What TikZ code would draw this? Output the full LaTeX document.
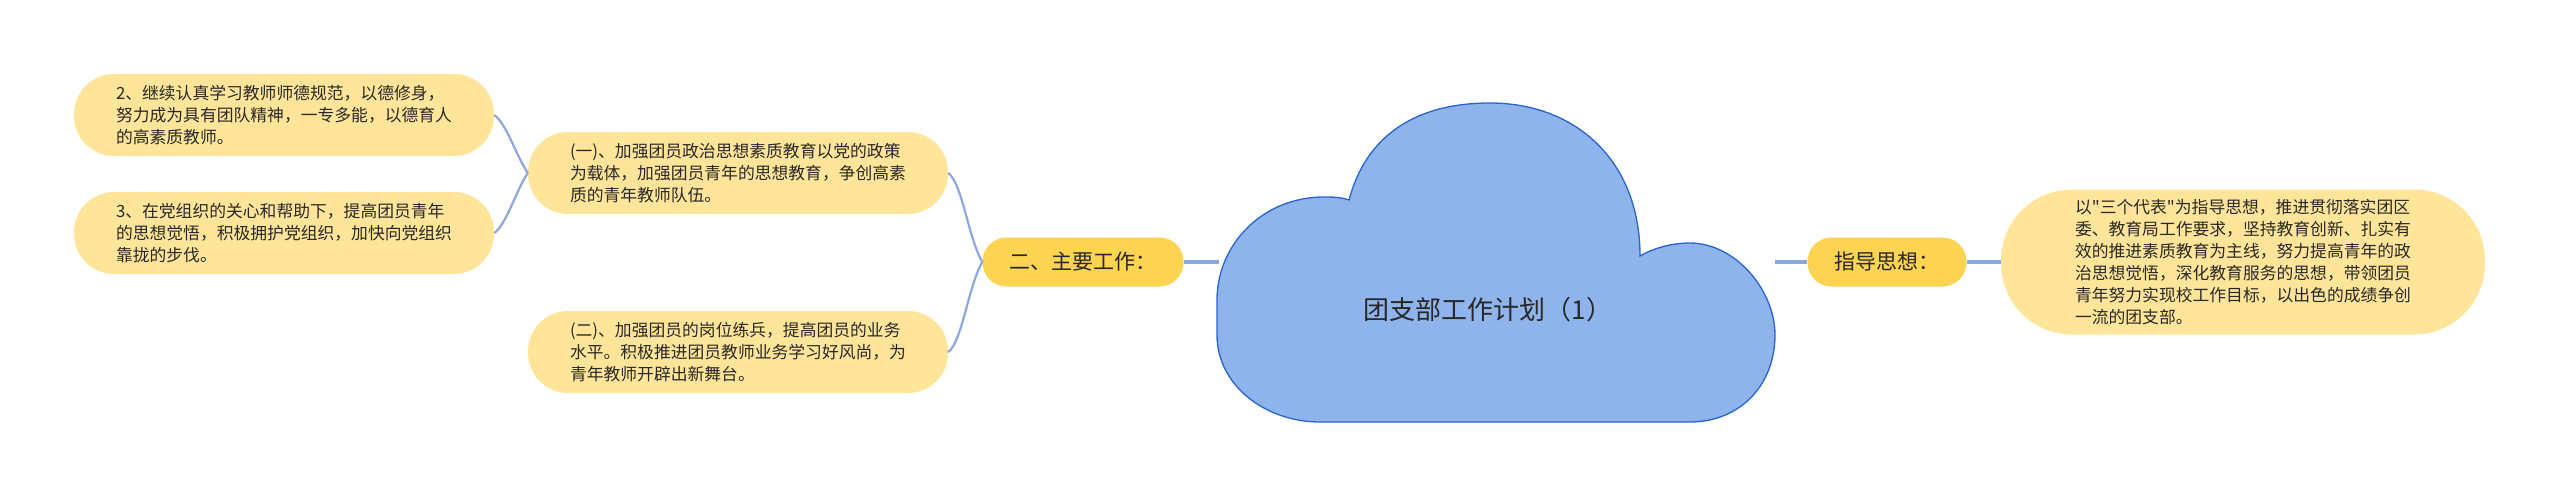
\documentclass[tikz,border=0pt]{standalone}
\usepackage{fontspec}
\newfontfamily\cjk{Noto Sans CJK SC}
\usepackage{tikz}
\usetikzlibrary{calc}
\usepackage{xcolor}

\definecolor{leafyellow}{RGB}{255,229,153}
\definecolor{topicyellow}{RGB}{253,211,82}
\definecolor{cloudfill}{RGB}{143,179,235}
\definecolor{cloudline}{RGB}{40,100,205}
\definecolor{linkblue}{RGB}{140,168,220}
\definecolor{inkgray}{RGB}{40,40,40}

\begin{document}
\begin{tikzpicture}[x=1pt, y=-1pt]

        % 1. Canvas (one unit = one pixel of the target, y downwards)
        \useasboundingbox (0,0) rectangle (2560,495);

        % 2. Styles for the branches
        \tikzset{
            leaf/.style={fill=leafyellow, rounded corners=40pt, minimum height=82pt, inner xsep=42pt, inner ysep=0pt,
                text width=336pt, align=left, text=inkgray, font=\cjk\fontsize{16.8}{22}\selectfont},
            topic/.style={fill=topicyellow, rounded corners=24pt, minimum height=49pt, inner xsep=27pt, inner ysep=0pt,
                text=inkgray, font=\cjk\fontsize{21}{25}\selectfont},
            link/.style={draw=linkblue, line width=2.2pt},
            stem/.style={draw=linkblue, line width=3.5pt}
        }

        % 3. The cloud in the middle
        \coordinate (cloudW) at (1219,262); % left side, where the stem ends
        \coordinate (cloudE) at (1775,262); % right side, where the stem starts

        \filldraw[fill=cloudfill, draw=cloudline, line width=1.3pt]
            (1320,422) -- (1690,422)
            .. controls (1740,422) and (1775,385) .. (1775,335)
            .. controls (1775,290) and (1735,243) .. (1690,243)
            .. controls (1670,243) and (1652,249) .. (1640,256)
            .. controls (1640,160) and (1575,103) .. (1490,103)
            .. controls (1415,103) and (1366,136) .. (1349,200)
            .. controls (1340,197) and (1332,197) .. (1324,197)
            .. controls (1262,197) and (1217,245) .. (1217,300)
            -- (1217,335)
            .. controls (1217,385) and (1265,422) .. (1320,422) -- cycle;

        \node[text=inkgray, font=\cjk\fontsize{26}{30}\selectfont] (title) at (1488,310) {团支部工作计划（1）};

        % 4. Main topics
        \node[topic] (work) at (1083,262) {二、主要工作：};
        \node[topic] (guide) at (1887,262) {指导思想：};

        % 5. Leaves
        \node[leaf] (lfA) at (738,173) {(一)、加强团员政治思想素质教育以党的政策\\为载体，加强团员青年的思想教育，争创高素\\质的青年教师队伍。};
        \node[leaf] (lfB) at (738,352) {(二)、加强团员的岗位练兵，提高团员的业务\\水平。积极推进团员教师业务学习好风尚，为\\青年教师开辟出新舞台。};
        \node[leaf] (lfTwo) at (284,115) {2、继续认真学习教师师德规范，以德修身，\\努力成为具有团队精神，一专多能，以德育人\\的高素质教师。};
        \node[leaf] (lfThree) at (284,233) {3、在党组织的关心和帮助下，提高团员青年\\的思想觉悟，积极拥护党组织，加快向党组织\\靠拢的步伐。};
        \node[leaf, rounded corners=71pt, minimum height=145pt, inner xsep=74pt] (lfR) at (2243,262)
            {以"三个代表"为指导思想，推进贯彻落实团区\\委、教育局工作要求，坚持教育创新、扎实有\\效的推进素质教育为主线，努力提高青年的政\\治思想觉悟，深化教育服务的思想，带领团员\\青年努力实现校工作目标，以出色的成绩争创\\一流的团支部。};

        % 6. Connectors
        \draw[stem] (work.east) -- (cloudW);
        \draw[stem] (cloudE) -- (guide.west);
        \draw[stem] (guide.east) -- (lfR.west);

        \draw[link] (work.west) .. controls +(-14,-24) and +(14,10) .. (lfA.east);
        \draw[link] (work.west) .. controls +(-14,24) and +(14,-10) .. (lfB.east);
        \draw[link] (lfA.west) .. controls +(-12,-18) and +(12,8) .. (lfTwo.east);
        \draw[link] (lfA.west) .. controls +(-12,18) and +(12,-8) .. (lfThree.east);

    \end{tikzpicture}
\end{document}
